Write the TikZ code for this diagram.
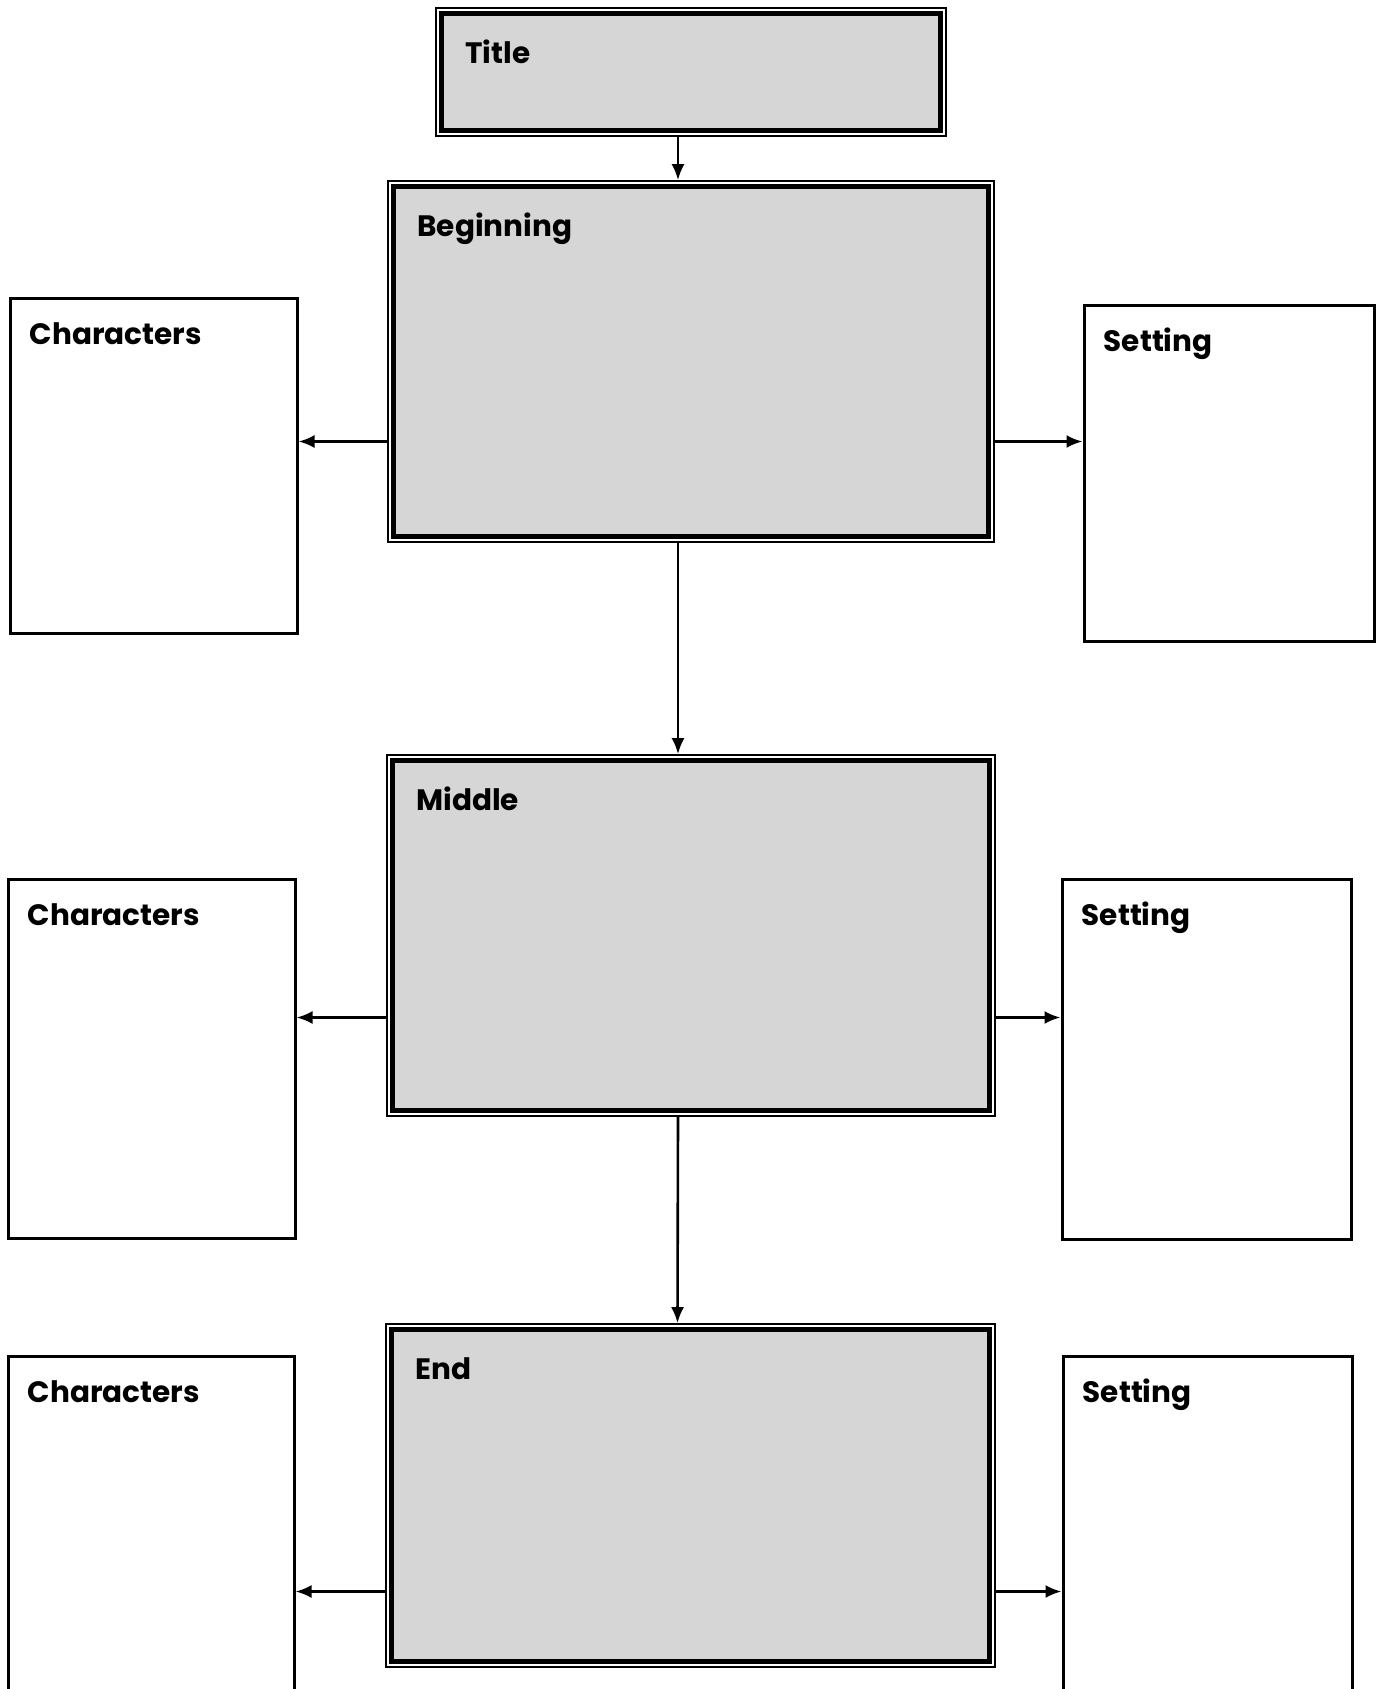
\documentclass[tikz,border=0pt]{standalone}
\usepackage{fontspec}
\setmainfont{Poppins}
\usetikzlibrary{arrows.meta}

\definecolor{panelgray}{RGB}{214,214,214}

\tikzset{
  frame/.style={rectangle,draw,line width=1.6pt,fill=white,inner sep=0pt},
  panelline/.style={draw,line width=5pt,fill=panelgray},
  sidebox/.style={rectangle,draw,line width=3pt,inner sep=0pt},
  heading/.style={anchor=base west,inner sep=0pt,font=\fontsize{29.5}{31}\selectfont\bfseries},
  arr/.style={line width=2.6pt,-{Latex[length=16pt,width=13pt]}}
}

\begin{document}
\begin{tikzpicture}[x=1pt,y=-1pt]
\useasboundingbox (0,0) rectangle (1379,1689);
\clip (0,0) rectangle (1379,1689);
% story panels, outer thin frame
\node (title) at (691,72)     [frame,minimum width=510,minimum height=128] {};
\node (beg)   at (691,361.5)  [frame,minimum width=606,minimum height=361] {};
\node (mid)   at (691,935.5)  [frame,minimum width=608,minimum height=361] {};
\node (end)   at (690.5,1495.5) [frame,minimum width=609,minimum height=343] {};
% thick grey panel inside each frame
\foreach \p in {title,beg,mid,end}
  \path [panelline] ([shift={(6,6)}]\p.north west) rectangle ([shift={(-6,-6)}]\p.south east);
\node [heading] at ([shift={(30,56)}]title.north west) {Title};
\node [heading] at ([shift={(30,56)}]beg.north west)   {Beginning};
\node [heading] at ([shift={(30,56)}]mid.north west)   {Middle};
\node [heading] at ([shift={(30,56)}]end.north west)   {End};
% characters / setting boxes
\node (chr1) at (153.5,465.5) [sidebox,minimum width=287,minimum height=335] {};
\node (set1) at (1229,473)    [sidebox,minimum width=290,minimum height=336] {};
\node (chr2) at (151.5,1058.5) [sidebox,minimum width=287,minimum height=359] {};
\node (set2) at (1206.5,1059)  [sidebox,minimum width=289,minimum height=360] {};
\node (chr3) at (151,1528)    [sidebox,minimum width=286,minimum height=344] {};
\node (set3) at (1207.5,1528) [sidebox,minimum width=289,minimum height=344] {};
\foreach \b in {chr1,chr2,chr3}
  \node [heading] at ([shift={(21,48)}]\b.north west) {Characters};
\foreach \b in {set1,set2,set3}
  \node [heading] at ([shift={(21,48)}]\b.north west) {Setting};
% down the middle
\draw [arr] ([xshift=-13]title.south) -- ([xshift=-13]beg.north);
\draw [arr] ([xshift=-13]beg.south)   -- ([xshift=-13]mid.north);
\draw [arr] ([xshift=-13]mid.south)   -- ([xshift=-13]end.north);
% out to the sides
\draw [arr] ([yshift=-80]beg.west) -- ([yshift=-80]beg.west -| chr1.east);
\draw [arr] ([yshift=-80]beg.east) -- ([yshift=-80]beg.east -| set1.west);
\draw [arr] ([yshift=-82]mid.west) -- ([yshift=-82]mid.west -| chr2.east);
\draw [arr] ([yshift=-82]mid.east) -- ([yshift=-82]mid.east -| set2.west);
\draw [arr] ([yshift=-96]end.west) -- ([yshift=-96]end.west -| chr3.east);
\draw [arr] ([yshift=-96]end.east) -- ([yshift=-96]end.east -| set3.west);
\end{tikzpicture}
\end{document}
